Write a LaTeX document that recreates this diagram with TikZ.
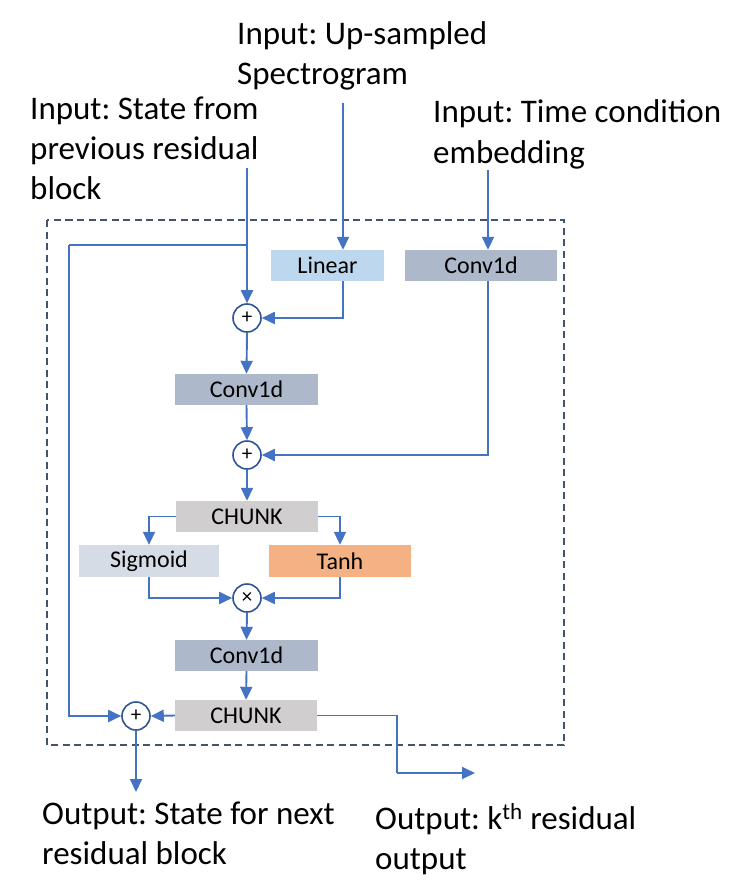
\documentclass[tikz,border=0pt]{standalone}
\usepackage{fontspec}
\setmainfont{Carlito}
\usetikzlibrary{arrows.meta}
\definecolor{arrblue}{HTML}{4472C4}
\definecolor{dashblue}{HTML}{44546A}
\definecolor{circblue}{HTML}{2F5597}
\definecolor{linfill}{HTML}{BDD7EE}
\definecolor{convfill}{HTML}{ADB9CA}
\definecolor{chunkfill}{HTML}{D0CECE}
\definecolor{sigfill}{HTML}{D6DCE5}
\definecolor{tanhfill}{HTML}{F4B183}
\frenchspacing
\tikzset{
  opbox/.style={rectangle, inner sep=0pt, minimum height=31pt, font=\fontsize{24}{28}\selectfont},
  opcirc/.style={circle, draw=circblue, line width=1.6pt, fill=white, minimum size=28pt, inner sep=0pt, font=\fontsize{21}{22}\selectfont},
  arr/.style={draw=arrblue, line width=1.9pt, -{Triangle[length=13pt,width=12pt]}},
  ln/.style={draw=arrblue, line width=1.9pt},
  lbl/.style={anchor=base west, align=left, inner sep=0pt, font=\fontsize{33}{40}\selectfont}
}
\begin{document}
\begin{tikzpicture}[x=1pt,y=-1pt]
\useasboundingbox (0,0) rectangle (733,880);
% dashed block
\draw[dashblue, line width=1.6pt, dash pattern=on 7pt off 4.5pt] (47,220) rectangle (564,745);
% labels (anchored at the baseline of their last line)
\node[lbl] (tUp) at (237,85) {Input: Up-sampled\\Spectrogram};
\node[lbl] (tState) at (30,199) {Input: State from\\previous residual\\block};
\node[lbl] (tTime) at (433,163) {Input: Time condition\\embedding};
\node[lbl] (tOutS) at (42,864) {Output: State for next\\residual block};
\node[lbl] (tOutK) at (375,869) {Output: k\textsuperscript{th} residual\\output};
% boxes
\node[opbox, fill=linfill, minimum width=113pt] (lin) at (327.5,265.5) {Linear};
\node[opbox, fill=convfill, minimum width=152pt] (cv1) at (481,265.5) {Conv1d};
\node[opbox, fill=convfill, minimum width=143pt] (cv2) at (246.5,389.5) {Conv1d};
\node[opbox, fill=chunkfill, minimum width=142pt] (ch1) at (247,516.5) {CHUNK};
\node[opbox, fill=sigfill, minimum width=140pt, minimum height=32pt] (sig) at (149,561) {Sigmoid};
\node[opbox, fill=tanhfill, minimum width=142pt, minimum height=32pt] (tanh) at (340,561) {Tanh};
\node[opbox, fill=convfill, minimum width=143pt] (cv3) at (246.5,655.5) {Conv1d};
\node[opbox, fill=chunkfill, minimum width=142pt] (ch2) at (246,715.5) {CHUNK};
% circles
\node[opcirc] (p1) at (247,318) {+};
\node[opcirc] (p2) at (247,455) {+};
\node[opcirc] (mx) at (247,598) {×};
\node[opcirc] (p3) at (136,716) {+};
% free ends
\coordinate (inUp) at (343,103);
\coordinate (inS) at (247,168);
\coordinate (inT) at (488,170);
\coordinate (lp) at (69,245);
\coordinate (bend) at (397,773);
\coordinate (outK) at (475,773);
\coordinate (outS) at (136,792);
% connectors
\draw[arr] (inUp) -- (inUp |- lin.north);
\draw[arr] (inT) -- (inT |- cv1.north);
\draw[arr] (inS) -- (p1.north);
\draw[ln] (inS |- lp) -- (lp);
\draw[arr] (lp) |- (p3.west);
\draw[arr] (inUp |- lin.south) |- (p1.east);
\draw[arr] (inT |- cv1.south) |- (p2.east);
\draw[arr] (p1.south) -- (cv2.north);
\draw[arr] (cv2.south) -- (p2.north);
\draw[arr] (p2.south) -- (ch1.north);
\draw[arr] (ch1.west) -| (sig.north);
\draw[arr] (ch1.east) -| (tanh.north);
\draw[arr] (sig.south) |- (mx.west);
\draw[arr] (tanh.south) |- (mx.east);
\draw[arr] (mx.south) -- (cv3.north);
\draw[arr] (cv3.south) -- (ch2.north);
\draw[arr] (ch2.west) -- (p3.east);
\draw[ln] (ch2.east) -| (bend);
\draw[arr] (bend) -- (outK);
\draw[arr] (p3.south) -- (outS);
\end{tikzpicture}
\end{document}
